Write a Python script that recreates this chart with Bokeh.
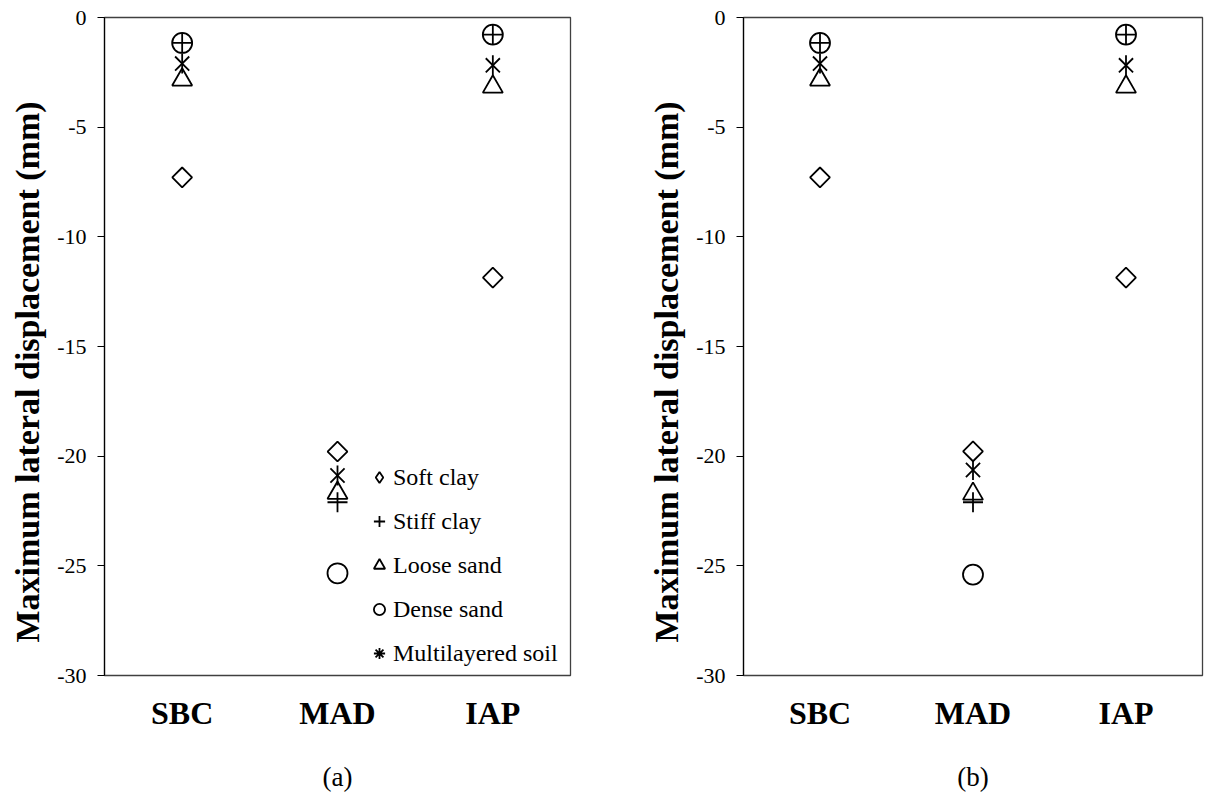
import numpy as np
from bokeh.plotting import figure
from bokeh.layouts import row
from bokeh.models import (Range1d, FixedTicker, Legend, LegendItem,
                          ColumnDataSource, FactorRange)
from bokeh.embed import file_html
from bokeh.resources import INLINE

categories = ["SBC", "MAD", "IAP"]
y_ticks = [0, -5, -10, -15, -20, -25, -30]

# panel (a)
a_soft = [-7.29, -19.79, -11.86]
a_stiff = [-1.16, -22.1, -0.78]
a_loose = [-2.84, -21.68, -3.16]
a_dense = [-1.16, -25.34, -0.78]
a_multi = [-2.10, -20.88, -2.18]

# panel (b)
b_soft = [-7.29, -19.78, -11.86]
b_stiff = [-1.16, -22.1, -0.78]
b_loose = [-2.84, -21.72, -3.16]
b_dense = [-1.16, -25.4, -0.78]
b_multi = [-2.10, -20.63, -2.18]

series_names = ["Soft clay", "Stiff clay", "Loose sand", "Dense sand", "Multilayered soil"]
y_title = "Maximum lateral displacement (mm)"

SERIF = "'Liberation Serif', 'Times New Roman', serif"
LW = 1.8


def make(tag, soft, stiff, loose, dense, multi, with_legend, frame_w, bl, br):
    src = ColumnDataSource(dict(cat=categories, soft=soft, stiff=stiff,
                                loose=loose, dense=dense, multi=multi))
    p = figure(x_range=FactorRange(*categories), y_range=Range1d(-30, 0),
               frame_width=frame_w, frame_height=658,
               min_border_left=bl, min_border_right=br,
               min_border_top=17, min_border_bottom=116,
               output_backend="svg", toolbar_location=None)
    p.xgrid.visible = False
    p.ygrid.visible = False
    p.outline_line_color = "#404040"
    p.outline_line_width = 1.3
    p.background_fill_color = "white"
    p.border_fill_color = "white"

    common = dict(fill_color=None, line_color="black", line_width=LW)
    p.scatter("cat", "soft", source=src, marker="square", angle=np.pi / 4, size=14, **common)
    p.scatter("cat", "stiff", source=src, marker="cross", size=20, **common)
    p.scatter("cat", "loose", source=src, marker="triangle", size=20, **common)
    p.scatter("cat", "dense", source=src, marker="circle", size=20, **common)
    p.scatter("cat", "multi", source=src, marker="x", size=20, **common)
    p.scatter("cat", "multi", source=src, marker="dash", angle=np.pi / 2, size=20, **common)

    ya = p.yaxis[0]
    ya.ticker = FixedTicker(ticks=y_ticks)
    ya.major_label_overrides = {t: str(t) for t in y_ticks}
    ya.minor_tick_line_color = None
    ya.major_tick_in = 0
    ya.major_tick_out = 7
    ya.major_tick_line_width = 1.2
    ya.axis_line_width = 1.2
    ya.axis_line_color = "black"
    ya.major_label_standoff = 11
    ya.major_label_text_font = SERIF
    ya.major_label_text_font_size = "22px"
    ya.major_label_text_color = "black"
    ya.axis_label = y_title + "\u00a0" * 6
    ya.axis_label_text_font = SERIF
    ya.axis_label_text_font_style = "bold"
    ya.axis_label_text_font_size = "34px"
    ya.axis_label_text_color = "black"
    ya.axis_label_standoff = 8

    xa = p.xaxis[0]
    xa.axis_line_color = None
    xa.major_tick_line_color = None
    xa.major_tick_out = 0
    xa.major_tick_in = 0
    xa.minor_tick_line_color = None
    xa.major_label_standoff = 19
    xa.major_label_text_font = SERIF
    xa.major_label_text_font_style = "bold"
    xa.major_label_text_font_size = "32px"
    xa.major_label_text_color = "black"
    xa.axis_label = tag
    xa.axis_label_text_font = SERIF
    xa.axis_label_text_font_style = "normal"
    xa.axis_label_text_font_size = "27px"
    xa.axis_label_text_color = "black"
    xa.axis_label_standoff = 28

    if with_legend:
        kw = dict(source=src, visible=False, **common)
        l_soft = p.scatter("cat", "soft", marker="diamond", **kw)
        l_stiff = p.scatter("cat", "stiff", marker="cross", **kw)
        l_loose = p.scatter("cat", "loose", marker="triangle", **kw)
        l_dense = p.scatter("cat", "dense", marker="circle", **kw)
        l_multi = p.scatter("cat", "multi", marker="asterisk", **kw)
        items = [LegendItem(label=series_names[0], renderers=[l_soft], index=0),
                 LegendItem(label=series_names[1], renderers=[l_stiff], index=0),
                 LegendItem(label=series_names[2], renderers=[l_loose], index=0),
                 LegendItem(label=series_names[3], renderers=[l_dense], index=0),
                 LegendItem(label=series_names[4], renderers=[l_multi], index=0)]
        leg = Legend(items=items, location=(261, 8), border_line_color=None,
                     background_fill_alpha=0, padding=0, margin=0, spacing=16,
                     glyph_width=28, glyph_height=28, label_standoff=0,
                     label_height=28, label_text_font=SERIF,
                     label_text_font_size="24px", label_text_color="black",
                     inactive_fill_alpha=0)
        p.add_layout(leg)
    return p


p1 = make("(a)", a_soft, a_stiff, a_loose, a_dense, a_multi, True, 466, 104, 73)
p2 = make("(b)", b_soft, b_stiff, b_loose, b_dense, b_multi, False, 459, 100, 3)
layout = row(p1, p2)

open("out.html", "w").write(file_html(layout, INLINE))
